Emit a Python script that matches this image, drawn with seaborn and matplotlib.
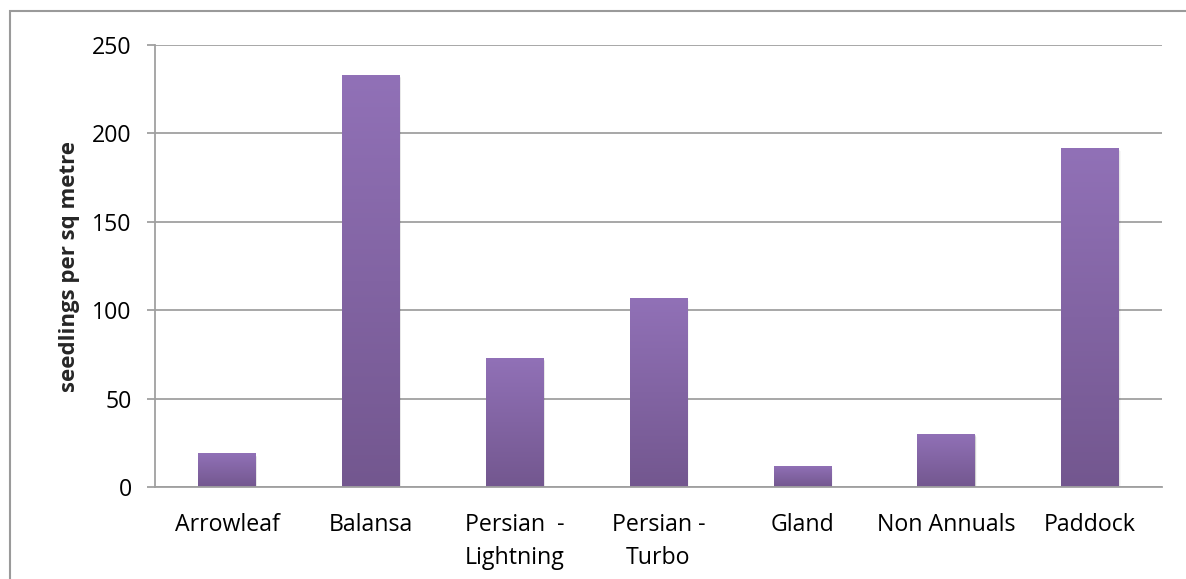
import numpy as np
import pandas as pd
import matplotlib
matplotlib.use("Agg")
import matplotlib.pyplot as plt
from matplotlib.colors import LinearSegmentedColormap
from matplotlib.patches import Rectangle
import seaborn as sns

categories = ["Arrowleaf", "Balansa", "Persian  -\nLightning", "Persian -\nTurbo",
              "Gland", "Non Annuals", "Paddock"]
seedlings = [19, 233, 73, 107, 12, 30, 192]
y_ticks = [0, 50, 100, 150, 200, 250]

df = pd.DataFrame({"category": categories, "seedlings": seedlings})

sns.set_theme(style="white")
plt.rcParams["font.family"] = ["Open Sans", "DejaVu Sans"]

fig = plt.figure(figsize=(11.86, 5.79), dpi=100)
ax = fig.add_axes([155 / 1186, 1 - 487 / 579, (1162 - 155) / 1186, (487 - 45) / 579])

sns.barplot(data=df, x="category", y="seedlings", ax=ax, width=0.40,
            color="#8267a3", saturation=1, edgecolor="none")

# vertical gradient inside each bar, light at the top, darker at the base
grad_cmap = LinearSegmentedColormap.from_list("purple_grad", ["#73578f", "#9171b7"])
gradient = np.linspace(0, 1, 256).reshape(-1, 1)
for patch in ax.patches:
    x0, y0 = patch.get_x(), patch.get_y()
    w, h = patch.get_width(), patch.get_height()
    # soft shadow to the right
    for k, a in enumerate([0.10, 0.06, 0.03]):
        sh = Rectangle((x0 + 0.004 * (k + 1), y0), w, h - 0.6 * (k + 1),
                       facecolor="black", alpha=a, edgecolor="none", zorder=1.5)
        ax.add_patch(sh)
    img = ax.imshow(gradient, aspect="auto", cmap=grad_cmap, origin="lower",
                    extent=(x0, x0 + w, y0, y0 + h), zorder=2)
    img.set_clip_path(patch)
    patch.set_facecolor("none")

ax.set_xlim(-0.5, len(categories) - 0.5)
ax.set_ylim(0, 250)
ax.set_yticks(y_ticks)
ax.set_yticklabels([str(v) for v in y_ticks])

grid_col = "#a0a0a0"
ax.yaxis.grid(True, color=grid_col, linewidth=1.3)
ax.set_axisbelow(True)
for side in ["top", "right"]:
    ax.spines[side].set_visible(False)
for side in ["left", "bottom"]:
    ax.spines[side].set_color(grid_col)
    ax.spines[side].set_linewidth(1.3)

# category boundary ticks on the x axis
ax.set_xticks(np.arange(len(categories)))
ax.set_xticklabels(categories)
ax.set_xticks(np.arange(-0.5, len(categories)), minor=True)
ax.tick_params(axis="x", which="major", length=0, pad=19, labelsize=16.7, colors="black")
ax.tick_params(axis="x", which="minor", length=5.8, width=1.3, color=grid_col, direction="out")
ax.tick_params(axis="y", which="major", length=5.8, width=1.3, color=grid_col,
               direction="out", labelsize=16.7, pad=11, left=True, colors="black")
ax.tick_params(axis="y", which="major", color=grid_col)
for lbl in ax.get_xticklabels():
    lbl.set_verticalalignment("top")
    lbl.set_linespacing(1.5)

ax.set_xlabel("")
ax.set_ylabel("seedlings per sq metre", fontsize=16, fontweight="bold", labelpad=9)

# chart-area frame
fig.patches.append(Rectangle((10 / 1186, -0.05), 1.2, 1 - 11 / 579 + 0.05,
                             transform=fig.transFigure, fill=False,
                             edgecolor="#9a9a9a", linewidth=1.5))

fig.savefig("out.png", dpi=100)
